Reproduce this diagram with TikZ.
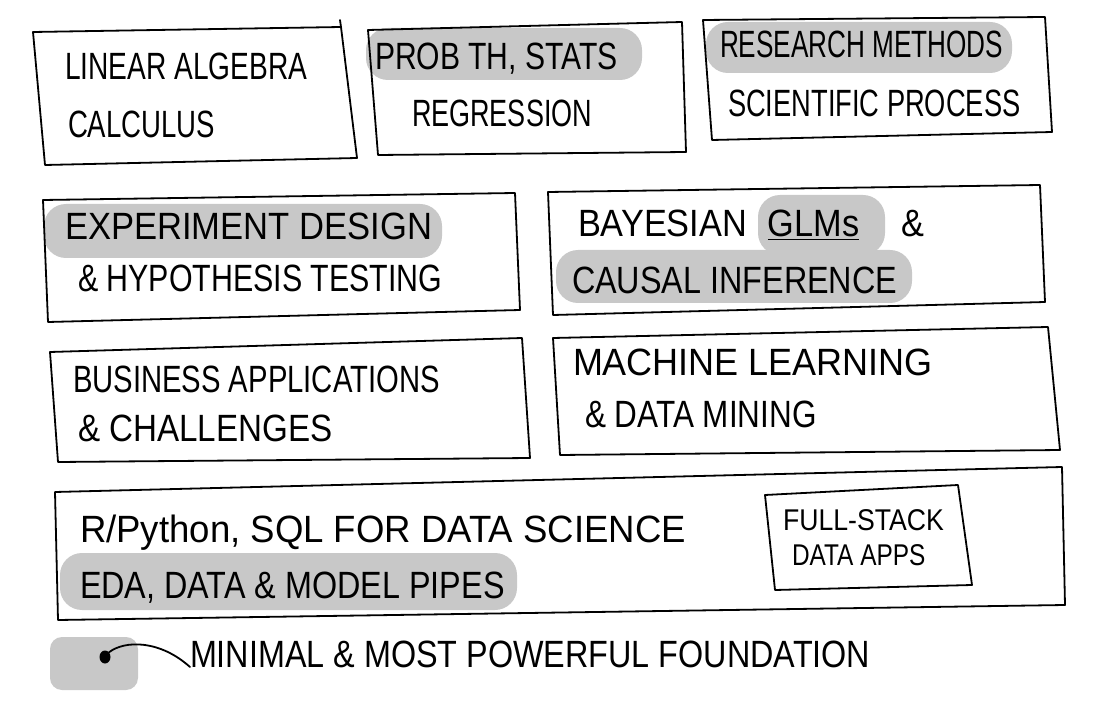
\documentclass[tikz,border=0pt]{standalone}
\usepackage{fontspec}
\usepackage{graphicx}
\usetikzlibrary{shapes.geometric}
\newfontfamily\hand{Liberation Sans}[FakeStretch=0.74]
\definecolor{hlgray}{HTML}{C8C8C8}
\tikzset{
  box/.style={draw=black, line width=1.8pt, line join=round, line cap=round},
  hl/.style={fill=hlgray, rounded corners=22pt},
  lbl/.style={anchor=base west, inner sep=0pt, outer sep=0pt, font=\hand\fontsize{38}{40}\selectfont},
  smalllbl/.style={lbl, font=\hand\fontsize{30}{32}\selectfont},
}
\newcommand{\sx}[2]{\scalebox{#1}[1]{#2}}
\begin{document}
\begin{tikzpicture}[x=1pt,y=-1pt]
\useasboundingbox[fill=white] (0,0) rectangle (1101,711);
% highlights
\fill[hl] (366,28) rectangle (642,80);
\fill[hl] (706,22) rectangle (1012,73);
\fill[hl] (44,204) rectangle (442,258);
\fill[hl] (758,195) rectangle (885,255);
\fill[hl] (556,250) rectangle (912,303);
\fill[hl] (60,553) rectangle (517,610);
\fill[hlgray, rounded corners=12pt] (50,637) rectangle (138,690);
% boxes
\draw[box] (33,32) -- (341,27) -- (357,158) -- (45,165) -- cycle;
\draw[box] (341,27) -- (340,20);
\draw[box] (368,30) -- (682,22) -- (686,152) -- (378,155) -- cycle;
\draw[box] (703,20) -- (1045,17) -- (1052,132) -- (712,140) -- cycle;
\draw[box] (43,200) -- (515,193) -- (520,310) -- (48,322) -- cycle;
\draw[box] (548,192) -- (1040,185) -- (1045,302) -- (553,315) -- cycle;
\draw[box] (50,352) -- (522,338) -- (530,458) -- (58,462) -- cycle;
\draw[box] (553,338) -- (1048,327) -- (1060,450) -- (560,455) -- cycle;
\draw[box] (55,492) -- (1062,467) -- (1065,605) -- (58,620) -- cycle;
\draw[box] (765,495) -- (958,485) -- (972,585) -- (775,590) -- cycle;
% texts
\node[lbl] (la) at (65,80) {\sx{1.0}{LINEAR ALGEBRA}};
\node[lbl] (calc) at (68,138) {\sx{0.98}{CALCULUS}};
\node[lbl] (prob) at (375,70) {\sx{1.07}{PROB TH, STATS}};
\node[lbl] (regr) at (412,127) {\sx{0.96}{REGRESSION}};
\node[lbl] (rm) at (720,58) {\sx{0.93}{RESEARCH METHODS}};
\node[lbl] (sp) at (728,117) {\sx{0.97}{SCIENTIFIC PROCESS}};
\node[lbl] (ed) at (65,240) {\sx{1.23}{EXPERIMENT DESIGN}};
\node[lbl] (ht) at (78,292) {\sx{1.08}{\& HYPOTHESIS TESTING}};
\node[lbl] (bg) at (578,237) {\sx{1.22}{BAYESIAN\hspace{0.45em}\underline{GLMs}\hspace{0.9em}\&}};
\node[lbl] (ci) at (572,294) {\sx{1.15}{CAUSAL INFERENCE}};
\node[lbl] (ba) at (73,392) {\sx{1.04}{BUSINESS APPLICATIONS}};
\node[lbl] (ch) at (78,441) {\sx{1.18}{\& CHALLENGES}};
\node[lbl] (ml) at (573,376) {\sx{1.28}{MACHINE LEARNING}};
\node[lbl] (dm) at (585,428) {\sx{1.12}{\& DATA MINING}};
\node[lbl] (rp) at (80,542) {\sx{1.3}{R/Python, SQL FOR DATA SCIENCE}};
\node[lbl] (eda) at (80,598) {\sx{1.15}{EDA, DATA \& MODEL PIPES}};
\node[smalllbl] (fs) at (783,530) {\sx{1.2}{FULL-STACK}};
\node[smalllbl] (da) at (792,565) {\sx{1.1}{DATA APPS}};
\node[lbl] (leg) at (190,667) {\sx{1.15}{MINIMAL \& MOST POWERFUL FOUNDATION}};
% legend dot and curve
\node[fill=black, ellipse, minimum width=11pt, minimum height=13pt, inner sep=0pt] (dot) at (105,657) {};
\draw[line width=1.8pt, line cap=round] (dot.north east) .. controls (125,640) and (160,640) .. (leg.base west);
\end{tikzpicture}
\end{document}
